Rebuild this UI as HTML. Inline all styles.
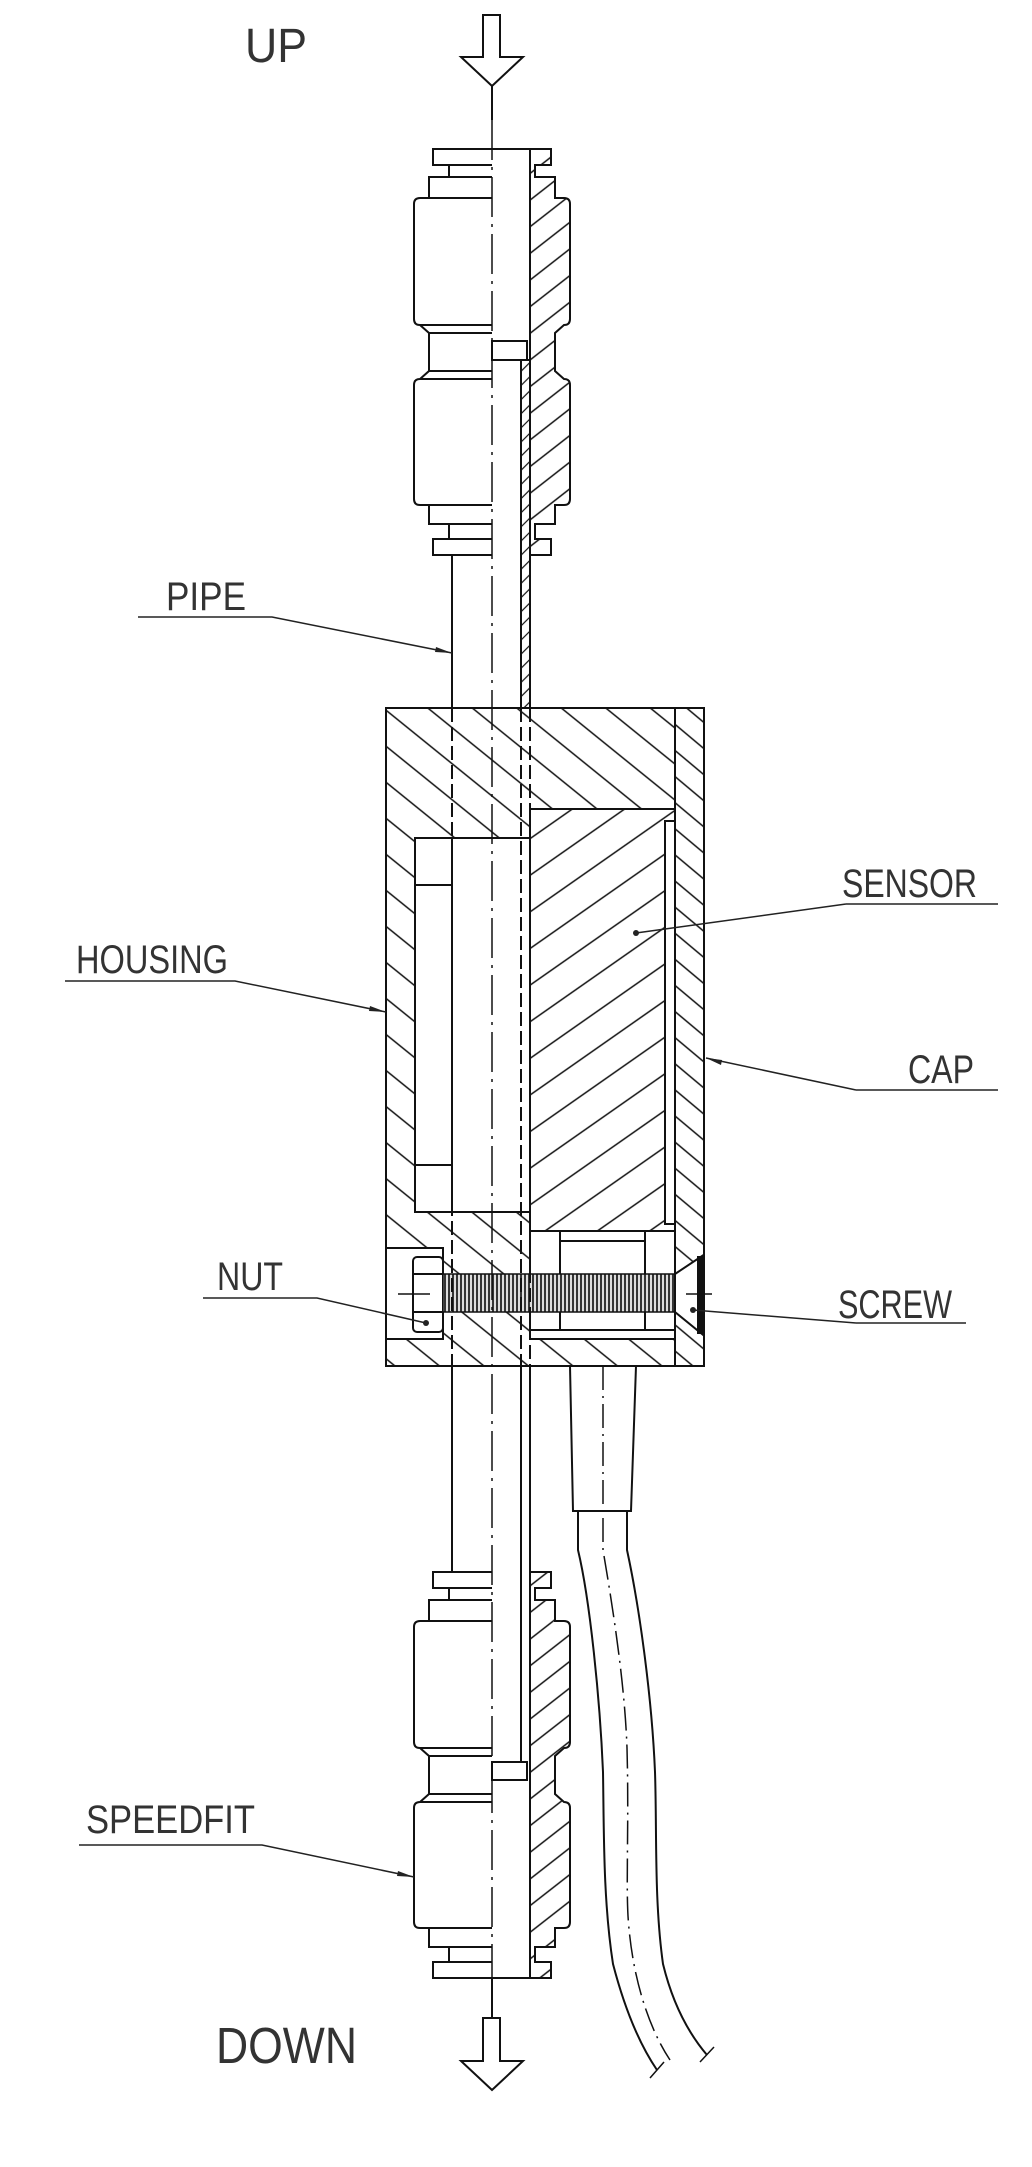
<!DOCTYPE html>
<html><head><meta charset="utf-8"><style>html,body{margin:0;padding:0;background:#fff}svg{display:block}</style></head>
<body>
<svg width="1032" height="2167" viewBox="0 0 1032 2167" xmlns="http://www.w3.org/2000/svg" font-family="Liberation Sans, sans-serif">
<defs>
<pattern id="hH" patternUnits="userSpaceOnUse" width="28" height="28" patternTransform="rotate(39)"><line x1="0" y1="1" x2="28" y2="1" stroke="#111" stroke-width="1.6"/></pattern>
<pattern id="hS" patternUnits="userSpaceOnUse" width="30" height="30" patternTransform="rotate(-35)"><line x1="0" y1="1" x2="30" y2="1" stroke="#111" stroke-width="1.6"/></pattern>
<pattern id="hC" patternUnits="userSpaceOnUse" width="20" height="20" patternTransform="rotate(40)"><line x1="0" y1="1" x2="20" y2="1" stroke="#111" stroke-width="1.5"/></pattern>
<pattern id="hF" patternUnits="userSpaceOnUse" width="21" height="21" patternTransform="rotate(-38)"><line x1="0" y1="1" x2="21" y2="1" stroke="#111" stroke-width="1.6"/></pattern>
<pattern id="hP" patternUnits="userSpaceOnUse" width="10" height="10" patternTransform="rotate(-45)"><line x1="0" y1="1" x2="10" y2="1" stroke="#111" stroke-width="1.2"/></pattern>
<pattern id="thr" patternUnits="userSpaceOnUse" width="4" height="10"><rect width="4" height="10" fill="#ddd"/><line x1="1" y1="0" x2="1" y2="10" stroke="#222" stroke-width="1.8"/></pattern>
</defs>

<g fill="none" stroke="#111" stroke-width="2">
<path d="M483,15 H500 V57 H523 L492,86 L461,57 H483 Z"/>
<line x1="492" y1="86" x2="492" y2="120"/>
<line x1="492" y1="1978" x2="492" y2="2018"/>
<path d="M483,2018 H500 V2061 H523 L492,2090 L461,2061 H483 Z"/>

<path d="M492,149 H433 V165 H449 V177 H429 V198 H420 Q414,198 414,204 V319 Q414,325 420,325 L429,333 V371 L420,379 Q414,379 414,385 V499 Q414,505 420,505 H429 V524 H449 V539 H433 V555 H492"/>
<path d="M433,165 H492 M429,177 H492 M420,198 H492 M420,325 H492 M429,333 H492 M429,371 H492 M420,379 H492 M420,505 H492 M429,524 H492 M449,539 H492"/>
<path d="M530,149 H551 V165 H535 V177 H555 V198 H564 Q570,198 570,204 V319 Q570,325 564,325 L555,333 V371 L564,379 Q570,379 570,385 V499 Q570,505 564,505 H555 V524 H535 V539 H551 V555 H530 Z" fill="url(#hF)"/>
<line x1="492" y1="149" x2="530" y2="149"/>
<line x1="530" y1="149" x2="530" y2="341"/>
<rect x="492" y="341" width="35" height="19" fill="#fff"/>
<rect x="521" y="360" width="9" height="348" fill="url(#hP)"/>
<line x1="452" y1="555" x2="452" y2="708"/>

<rect x="386" y="708" width="289" height="658" fill="url(#hH)" stroke="none"/>
<rect x="675" y="708" width="29" height="658" fill="url(#hC)" stroke="none"/>
<rect x="415" y="838" width="115" height="374" fill="#fff"/>
<line x1="415" y1="885" x2="452" y2="885"/>
<line x1="415" y1="1165" x2="452" y2="1165"/>
<line x1="452" y1="838" x2="452" y2="1212"/>
<rect x="530" y="809" width="145" height="422" fill="#fff" stroke="none"/>
<rect x="530" y="809" width="145" height="422" fill="url(#hS)"/>
<rect x="665" y="821" width="10" height="403" fill="#fff"/>
<rect x="386" y="1248" width="57" height="91" fill="#fff"/>
<rect x="530" y="1231" width="145" height="99" fill="#fff"/>
<rect x="530" y="1231" width="30" height="99"/>
<rect x="645" y="1231" width="30" height="99"/>
<line x1="560" y1="1241" x2="645" y2="1241"/>
<rect x="530" y="1330" width="145" height="9" fill="#fff"/>
<rect x="413" y="1257" width="30" height="75" rx="4" fill="#fff"/>
<line x1="413" y1="1274" x2="443" y2="1274"/>
<line x1="413" y1="1312" x2="443" y2="1312"/>
<rect x="443" y="1274" width="232" height="38" fill="url(#thr)" stroke-width="1.5"/>
<path d="M675,1274 L702,1256 V1334 L675,1312 Z" fill="#fff"/>
<line x1="699" y1="1256" x2="699" y2="1334" stroke-width="4"/>
<line x1="398" y1="1294" x2="430" y2="1294" stroke-width="1.5"/>
<line x1="686" y1="1294" x2="712" y2="1294" stroke-width="1.5"/>
<rect x="386" y="708" width="318" height="658"/>
<line x1="675" y1="708" x2="675" y2="1366"/>
<line x1="452" y1="708" x2="452" y2="1366" stroke-dasharray="14 5"/>
<line x1="521" y1="708" x2="521" y2="1366" stroke-dasharray="14 5"/>
<line x1="530" y1="708" x2="530" y2="809" stroke-dasharray="14 5"/>
<line x1="530" y1="1212" x2="530" y2="1366" stroke-dasharray="14 5"/>

<line x1="452" y1="1366" x2="452" y2="1572"/>
<line x1="521" y1="1366" x2="521" y2="1762"/>
<line x1="530" y1="1366" x2="530" y2="1572"/>

<path d="M570,1366 L573,1511 H631 L636,1366"/>
<path d="M578,1511 V1550 C590,1600 600,1700 603,1772 C604,1830 603,1900 613,1964 C625,2010 640,2045 657,2070"/>
<path d="M627,1511 V1550 C640,1610 652,1700 655,1772 C657,1830 654,1900 663,1964 C673,2005 690,2035 707,2055"/>
<path d="M650,2078 L664,2062 M700,2062 L714,2047" stroke-width="1.5"/>
<path d="M603,1366 V1550 C615,1620 625,1690 627,1748 C629,1820 626,1880 628,1916 C632,1980 650,2030 670,2060" stroke-width="1.5" stroke-dasharray="24 6 2 6"/>

<path d="M492,1572 H433 V1588 H449 V1600 H429 V1621 H420 Q414,1621 414,1627 V1742 Q414,1748 420,1748 L429,1756 V1794 L420,1802 Q414,1802 414,1808 V1922 Q414,1928 420,1928 H429 V1947 H449 V1962 H433 V1978 H492"/>
<path d="M433,1588 H492 M429,1600 H492 M420,1621 H492 M420,1748 H492 M429,1756 H492 M429,1794 H492 M420,1802 H492 M420,1928 H492 M429,1947 H492 M449,1962 H492"/>
<path d="M530,1572 H551 V1588 H535 V1600 H555 V1621 H564 Q570,1621 570,1627 V1742 Q570,1748 564,1748 L555,1756 V1794 L564,1802 Q570,1802 570,1808 V1922 Q570,1928 564,1928 H555 V1947 H535 V1962 H551 V1978 H530 Z" fill="url(#hF)"/>
<line x1="492" y1="1978" x2="530" y2="1978"/>
<rect x="492" y="1762" width="35" height="18" fill="#fff"/>
<line x1="530" y1="1572" x2="530" y2="1978"/>
</g>

<line x1="492" y1="120" x2="492" y2="1978" stroke="#111" stroke-width="1.5" stroke-dasharray="40 7 3 7"/>

<g fill="none" stroke="#222" stroke-width="1.5">
<path d="M138,617 H272 L452,653"/>
<path d="M65,981 H235 L386,1012"/>
<path d="M846,904 H998 M846,904 L636,933"/>
<path d="M856,1090 H998 M856,1090 L706,1058"/>
<path d="M203,1298 H317 L426,1323"/>
<path d="M856,1323 H966 M856,1323 L693,1310"/>
<path d="M79,1845 H262 L414,1877"/>
</g>
<g fill="#222">
<circle cx="636" cy="933" r="3"/><circle cx="426" cy="1323" r="3"/><circle cx="693" cy="1310" r="3"/>
<path d="M452,653 L436,647 L435,652 Z"/><path d="M386,1012 L370,1006 L369,1011 Z"/>
<path d="M706,1058 L722,1060 L721,1065 Z"/><path d="M414,1877 L398,1871 L397,1876 Z"/>
</g>

<g fill="#333" font-size="40">
<text x="245" y="62" textLength="62" lengthAdjust="spacingAndGlyphs" font-size="48">UP</text>
<text x="216" y="2063" textLength="141" lengthAdjust="spacingAndGlyphs" font-size="51">DOWN</text>
<text x="166" y="610" textLength="80" lengthAdjust="spacingAndGlyphs">PIPE</text>
<text x="76" y="973" textLength="152" lengthAdjust="spacingAndGlyphs">HOUSING</text>
<text x="842" y="897" textLength="135" lengthAdjust="spacingAndGlyphs">SENSOR</text>
<text x="908" y="1083" textLength="66" lengthAdjust="spacingAndGlyphs">CAP</text>
<text x="217" y="1290" textLength="66" lengthAdjust="spacingAndGlyphs">NUT</text>
<text x="838" y="1318" textLength="114" lengthAdjust="spacingAndGlyphs">SCREW</text>
<text x="86" y="1833" textLength="169" lengthAdjust="spacingAndGlyphs">SPEEDFIT</text>
</g>
</svg>
</body></html>
